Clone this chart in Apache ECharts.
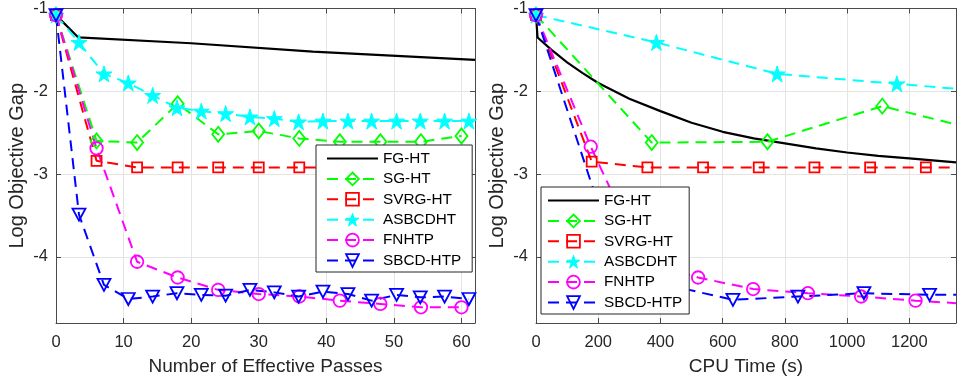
<!DOCTYPE html>
<html><head><meta charset="utf-8">
<script src="https://cdn.jsdelivr.net/npm/echarts@6/dist/echarts.min.js"></script>
<style>html,body{margin:0;padding:0;background:#fff}#c{width:960px;height:381px}</style>
</head><body><div id="c"></div><script>
// ---------- data ----------
const seriesNames = ['FG-HT','SG-HT','SVRG-HT','ASBCDHT','FNHTP','SBCD-HTP'];

// Left panel: x = number of effective passes
const passFG    = [0, 3.3, 20, 38, 62];
const gapFG     = [-1.08, -1.35, -1.42, -1.52, -1.62];
const passSG    = [0, 6, 12, 18, 24, 30, 36, 42, 48, 54, 60];
const gapSG     = [-1.08, -2.6, -2.62, -2.15, -2.52, -2.48, -2.57, -2.61, -2.61, -2.61, -2.54];
const passSVRG  = [0, 6, 12, 18, 24, 30, 36, 42, 48, 54, 60];
const gapSVRG   = [-1.08, -2.84, -2.92, -2.92, -2.92, -2.92, -2.92, -2.92, -2.92, -2.92, -2.92];
const passASBCD = [0, 3.4, 7.1, 10.7, 14.3, 17.9, 21.5, 25.1, 28.7, 32.3, 35.9, 39.5, 43.2, 46.7, 50.4, 53.9, 57.5, 61.1];
const gapASBCD  = [-1.08, -1.41, -1.79, -1.9, -2.05, -2.2, -2.24, -2.27, -2.31, -2.33, -2.37, -2.36, -2.36, -2.36, -2.36, -2.36, -2.36, -2.36];
const passFN    = [0, 6, 12, 18, 24, 30, 36, 42, 48, 54, 60];
const gapFN     = [-1.08, -2.69, -4.06, -4.25, -4.40, -4.45, -4.48, -4.53, -4.57, -4.61, -4.61];
const passSBCD  = [0, 3.4, 7.1, 10.7, 14.3, 17.9, 21.5, 25.1, 28.7, 32.3, 35.9, 39.5, 43.2, 46.7, 50.4, 53.9, 57.5, 61.1];
const gapSBCD   = [-1.08, -3.49, -4.34, -4.51, -4.48, -4.44, -4.46, -4.47, -4.40, -4.43, -4.48, -4.42, -4.45, -4.53, -4.46, -4.49, -4.48, -4.51];

// Right panel: x = CPU time (s); last point of each series is where the line leaves the axes
const timeFG    = [0, 5, 50, 100, 150, 200, 300, 400, 500, 600, 700, 800, 900, 1000, 1100, 1200, 1350];
const cpuGapFG  = [-1.08, -1.35, -1.5, -1.65, -1.78, -1.9, -2.09, -2.24, -2.38, -2.49, -2.57, -2.63, -2.69, -2.74, -2.78, -2.81, -2.86];
const timeSG    = [0, 372, 744, 1113, 1350];
const cpuGapSG  = [-1.08, -2.62, -2.61, -2.18, -2.4];
const timeSVRG  = [0, 179, 358, 537, 716, 895, 1074, 1253, 1350];
const cpuGapSVRG= [-1.08, -2.85, -2.92, -2.92, -2.92, -2.92, -2.92, -2.92, -2.92];
const timeASBCD = [0, 387, 775, 1160, 1350];
const cpuGapASBCD=[-1.08, -1.41, -1.79, -1.91, -1.97];
const timeFN    = [0, 176, 348, 521, 698, 874, 1045, 1220, 1350];
const cpuGapFN  = [-1.08, -2.67, -4.06, -4.25, -4.39, -4.44, -4.48, -4.53, -4.56];
const timeSBCD  = [0, 211, 422, 633, 842, 1054, 1265, 1350];
const cpuGapSBCD= [-1.08, -3.49, -4.34, -4.52, -4.48, -4.44, -4.46, -4.46];

// axis ticks
const passTicks = [0, 10, 20, 30, 40, 50, 60];
const timeTicks = [0, 200, 400, 600, 800, 1000, 1200];
const gapTicks  = [-4, -3, -2, -1];

// ---------- styles ----------
const STAR = 'path://M50,0 L61.2,34.5 L97.6,34.5 L68.2,55.9 L79.4,90.5 L50,69.1 L20.6,90.5 L31.8,55.9 L2.4,34.5 L38.8,34.5 Z';
const TRI_DOWN = 'path://M0,0 L100,0 L50,90 Z';
const styles = {
  'FG-HT':    {color:'#000000', symbol:'none',    size:0,       dash:false, filled:false, width:2.2},
  'SG-HT':    {color:'#00ff00', symbol:'diamond', size:[12,15], dash:true,  filled:false, width:2},
  'SVRG-HT':  {color:'#ff0000', symbol:'rect',    size:10,      dash:true,  filled:false, width:2},
  'ASBCDHT':  {color:'#00ffff', symbol:STAR,      size:16,      dash:true,  filled:true,  width:2},
  'FNHTP':    {color:'#ff00ff', symbol:'circle',  size:12.5,    dash:true,  filled:false, width:2},
  'SBCD-HTP': {color:'#0000ff', symbol:TRI_DOWN,  size:[13,12], dash:true,  filled:false, width:2}
};
const FONT = 'Liberation Sans, Arial, sans-serif';
const DASH = [11, 7];

function mk(name, xs, ys, gi, edgeEnd) {
  const s = styles[name];
  const data = xs.map((x, i) => (edgeEnd && i === xs.length - 1)
    ? {value: [x, ys[i]], symbol: 'none'} : [x, ys[i]]);
  return {
    type: 'line', name, xAxisIndex: gi, yAxisIndex: gi, data,
    symbol: s.symbol, symbolSize: s.size, showAllSymbol: true, clip: true,
    lineStyle: {color: s.color, width: s.width, type: s.dash ? DASH : 'solid'},
    itemStyle: {color: s.filled ? s.color : 'rgba(0,0,0,0)', borderColor: s.color, borderWidth: s.filled ? 1 : 1.8},
    emphasis: {disabled: true}, silent: true, animation: false
  };
}

const series = [
  mk('FG-HT', passFG, gapFG, 0, false),
  mk('SG-HT', passSG, gapSG, 0, false),
  mk('SVRG-HT', passSVRG, gapSVRG, 0, false),
  mk('ASBCDHT', passASBCD, gapASBCD, 0, false),
  mk('FNHTP', passFN, gapFN, 0, false),
  mk('SBCD-HTP', passSBCD, gapSBCD, 0, false),
  mk('FG-HT', timeFG, cpuGapFG, 1, true),
  mk('SG-HT', timeSG, cpuGapSG, 1, true),
  mk('SVRG-HT', timeSVRG, cpuGapSVRG, 1, true),
  mk('ASBCDHT', timeASBCD, cpuGapASBCD, 1, true),
  mk('FNHTP', timeFN, cpuGapFN, 1, true),
  mk('SBCD-HTP', timeSBCD, cpuGapSBCD, 1, true)
];

const AX = '#4a4a4a';
function tickFmt(list) { return v => (list.some(t => Math.abs(t - v) < 1e-9) ? String(v) : ''); }
function xAx(gi, min, max, interval, ticks, name, top) {
  return {
    type: 'value', gridIndex: gi, min, max, interval, position: top ? 'top' : 'bottom',
    name: top ? '' : name, nameLocation: 'middle', nameGap: 34,
    nameTextStyle: {fontFamily: FONT, fontSize: 19, color: '#262626'},
    axisLine: {show: true, onZero: false, lineStyle: {color: AX, width: 1}},
    axisTick: {show: true, inside: true, length: 5, lineStyle: {color: AX}},
    axisLabel: {show: !top, margin: 11, fontFamily: FONT, fontSize: 16.5, color: '#262626', formatter: tickFmt(ticks)},
    splitLine: {show: !top, lineStyle: {color: '#e4e4e4', width: 1}}
  };
}
function yAx(gi, right) {
  return {
    type: 'value', gridIndex: gi, min: -4.8, max: -1, splitNumber: 4, position: right ? 'right' : 'left',
    name: right ? '' : 'Log Objective Gap', nameLocation: 'middle', nameGap: 29, nameRotate: 90,
    nameTextStyle: {fontFamily: FONT, fontSize: 20, color: '#262626'},
    axisLine: {show: true, onZero: false, lineStyle: {color: AX, width: 1}},
    axisTick: {show: true, inside: true, length: 5, lineStyle: {color: AX}},
    axisLabel: {show: !right, margin: 8, fontFamily: FONT, fontSize: 16.5, color: '#262626', formatter: tickFmt(gapTicks)},
    splitLine: {show: !right, lineStyle: {color: '#e4e4e4', width: 1}}
  };
}

function legendData() {
  return seriesNames.map(n => {
    const s = styles[n];
    if (n === 'FG-HT') return {name: n, itemStyle: {color: 'rgba(0,0,0,0)', borderColor: 'rgba(0,0,0,0)', borderWidth: 0, opacity: 0}};
    return {name: n, itemStyle: {color: s.filled ? s.color : 'rgba(0,0,0,0)', borderColor: s.color, borderWidth: s.filled ? 1 : 1.8}};
  });
}
function legend(left, top, padding) {
  return {
    orient: 'vertical', left, top, padding, itemWidth: 51, itemHeight: 16, itemGap: 5.4,
    backgroundColor: '#ffffff', borderColor: '#262626', borderWidth: 1, borderRadius: 0,
    selectedMode: false,
    textStyle: {fontFamily: FONT, fontSize: 15.3, color: '#000'},
    data: legendData()
  };
}

const option = {
  animation: false,
  backgroundColor: '#ffffff',
  grid: [
    {left: 56, top: 8, width: 419, height: 317, containLabel: false},
    {left: 536, top: 8, width: 420, height: 317, containLabel: false}
  ],
  xAxis: [
    xAx(0, 0, 62, 10, passTicks, 'Number of Effective Passes', false),
    xAx(1, 0, 1350, 200, timeTicks, 'CPU Time (s)', false),
    xAx(0, 0, 62, 10, passTicks, '', true),
    xAx(1, 0, 1350, 200, timeTicks, '', true)
  ],
  yAxis: [yAx(0, false), yAx(1, false), yAx(0, true), yAx(1, true)],
  legend: [legend(316, 145, [6, 11, 4, 10]), legend(541, 187, [6, 7, 4, 6])],
  series
};
const chart = echarts.init(document.getElementById('c'), null, {renderer: 'canvas'});
chart.setOption(option);
</script></body></html>
